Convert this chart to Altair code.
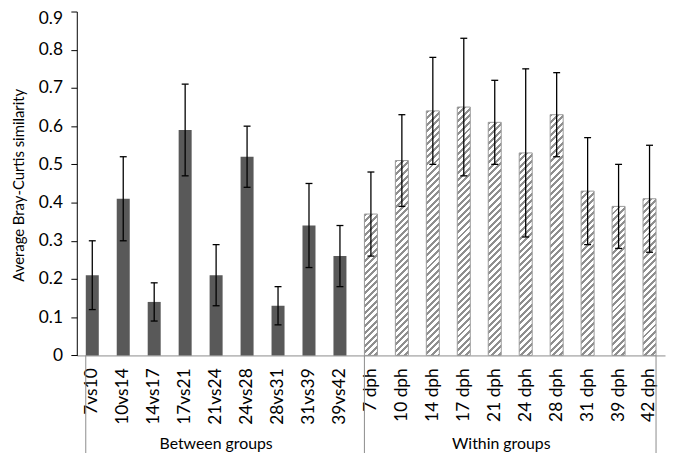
import altair as alt
import pandas as pd

# ---------------- data ----------------
between_cats = ["7vs10", "10vs14", "14vs17", "17vs21", "21vs24", "24vs28", "28vs31", "31vs39", "39vs42"]
between_vals = [0.21, 0.41, 0.14, 0.59, 0.21, 0.52, 0.13, 0.34, 0.26]
between_lo = [0.12, 0.30, 0.09, 0.47, 0.13, 0.44, 0.08, 0.23, 0.18]
between_hi = [0.30, 0.52, 0.19, 0.71, 0.29, 0.60, 0.18, 0.45, 0.34]

within_cats = ["7 dph", "10 dph", "14 dph", "17 dph", "21 dph", "24 dph", "28 dph", "31 dph", "39 dph", "42 dph"]
within_vals = [0.37, 0.51, 0.64, 0.65, 0.61, 0.53, 0.63, 0.43, 0.39, 0.41]
within_lo = [0.26, 0.39, 0.50, 0.47, 0.50, 0.31, 0.52, 0.29, 0.28, 0.27]
within_hi = [0.48, 0.63, 0.78, 0.83, 0.72, 0.75, 0.74, 0.57, 0.50, 0.55]

group_labels = ["Between groups", "Within groups"]
y_ticks = [0, 0.1, 0.2, 0.3, 0.4, 0.5, 0.6, 0.7, 0.8, 0.9]
y_title = "Average Bray-Curtis similarity"

# ---------------- layout / style ----------------
W = 594.2
H = 347.4
Y_MAX = 0.9
PAD_INNER = 0.58
FONT = "Lato"
DARK = "#595959"
HATCH = "#8f8f8f"
OUTLINE = "#9a9a9a"
LINE_GRAY = "#8c8c8c"

cats = between_cats + within_cats
df = pd.DataFrame({
    "cat": cats,
    "value": between_vals + within_vals,
    "lo": between_lo + within_lo,
    "hi": between_hi + within_hi,
    "group": [group_labels[0]] * len(between_cats) + [group_labels[1]] * len(within_cats),
})

xscale = alt.Scale(domain=cats, paddingInner=PAD_INNER, paddingOuter=PAD_INNER / 2)
xaxis = alt.Axis(title=None, labelAngle=-90, ticks=False, tickSize=0, labelPadding=12.5,
                 domainColor=LINE_GRAY, domainWidth=1, labelFont=FONT, labelFontSize=17.5,
                 labelColor="#000")
yscale = alt.Scale(domain=[0, Y_MAX], nice=False)
yaxis = alt.Axis(title=y_title, values=y_ticks, format=".1~f", grid=False,
                 domainColor="#000", tickColor="#000", tickSize=6, labelPadding=8.5,
                 labelFont=FONT, labelFontSize=17.5, labelColor="#000",
                 labelOffset=alt.condition("datum.value >= 0.85", alt.value(7), alt.value(0)),
                 titleFont=FONT, titleFontSize=15, titleFontWeight="normal", titleColor="#000",
                 titleAngle=270, titleBaseline="alphabetic", titleAlign="center",
                 titleX=-53.5, titleY=175)

x_enc = alt.X("cat:N", scale=xscale, axis=xaxis)

base = alt.Chart(df)

bars_between = base.transform_filter(
    alt.datum.group == group_labels[0]
).mark_bar(fill=DARK, opacity=1).encode(
    x=x_enc, y=alt.Y("value:Q", scale=yscale, axis=yaxis)
)

# hatched bars: diagonal stripes drawn with a per-bar linear gradient
bar_w = W / len(cats) * (1 - PAD_INNER)


def hatch(v):
    h = v / Y_MAX * H
    L = bar_w + h
    period, stripe = 6.6, 3.0
    stops = []
    pos = 0.0
    while pos < L:
        a = pos / L
        b = min(pos + stripe, L) / L
        c = min(pos + period, L) / L
        stops += [alt.GradientStop(offset=a, color=HATCH), alt.GradientStop(offset=b, color=HATCH),
                  alt.GradientStop(offset=b, color="#ffffff"), alt.GradientStop(offset=c, color="#ffffff")]
        pos += period
    m = L / (bar_w ** 2 + h ** 2)
    return alt.LinearGradient(gradient="linear", stops=stops, x1=0, y1=0, x2=m * bar_w, y2=m * h)


hatched_layers = []
for c, v in zip(within_cats, within_vals):
    hatched_layers.append(
        base.transform_filter(alt.datum.cat == c).mark_bar(
            fill=hatch(v), stroke=OUTLINE, strokeWidth=1, opacity=1
        ).encode(x=x_enc, y=alt.Y("value:Q", scale=yscale, axis=yaxis))
    )

err = base.mark_rule(color="#000", strokeWidth=1.3, opacity=1).encode(
    x=x_enc, y=alt.Y("lo:Q", scale=yscale, axis=yaxis), y2="hi:Q"
)
cap_lo = base.mark_tick(color="#000", size=7, thickness=1.3, opacity=1).encode(
    x=x_enc, y=alt.Y("lo:Q", scale=yscale, axis=yaxis)
)
cap_hi = base.mark_tick(color="#000", size=7, thickness=1.3, opacity=1).encode(
    x=x_enc, y=alt.Y("hi:Q", scale=yscale, axis=yaxis)
)

# group separators below the category axis
sep_start = pd.DataFrame({"cat": [between_cats[0], within_cats[0]]})
sep_end = pd.DataFrame({"cat": [within_cats[-1]]})
sep1 = alt.Chart(sep_start).mark_rule(color=LINE_GRAY, strokeWidth=1).encode(
    x=alt.X("cat:N", scale=xscale, axis=xaxis, bandPosition=0),
    y=alt.value(H), y2=alt.value(H + 100)
)
sep2 = alt.Chart(sep_end).mark_rule(color=LINE_GRAY, strokeWidth=1).encode(
    x=alt.X("cat:N", scale=xscale, axis=xaxis, bandPosition=1),
    y=alt.value(H), y2=alt.value(H + 100)
)

# group labels
g1 = alt.Chart(pd.DataFrame({"cat": [between_cats[4]], "label": [group_labels[0]]})).mark_text(
    font=FONT, fontSize=16, color="#000", baseline="alphabetic", align="center"
).encode(x=alt.X("cat:N", scale=xscale, axis=xaxis, bandPosition=0.5), y=alt.value(442.2), text="label:N")
g2 = alt.Chart(pd.DataFrame({"cat": [within_cats[4]], "label": [group_labels[1]]})).mark_text(
    font=FONT, fontSize=16, color="#000", baseline="alphabetic", align="center"
).encode(x=alt.X("cat:N", scale=xscale, axis=xaxis, bandPosition=1), y=alt.value(442.2), text="label:N")

chart = alt.layer(
    bars_between, *hatched_layers, err, cap_lo, cap_hi, sep1, sep2, g1, g2
).properties(
    width=W, height=H,
    padding={"left": 69.5, "top": 1.3, "right": 2, "bottom": 96.3},
    autosize=alt.AutoSizeParams(type="none"),
    background="white",
).configure_view(stroke=None)

chart.save("out.html", embed_options={"renderer": "svg", "actions": False})
